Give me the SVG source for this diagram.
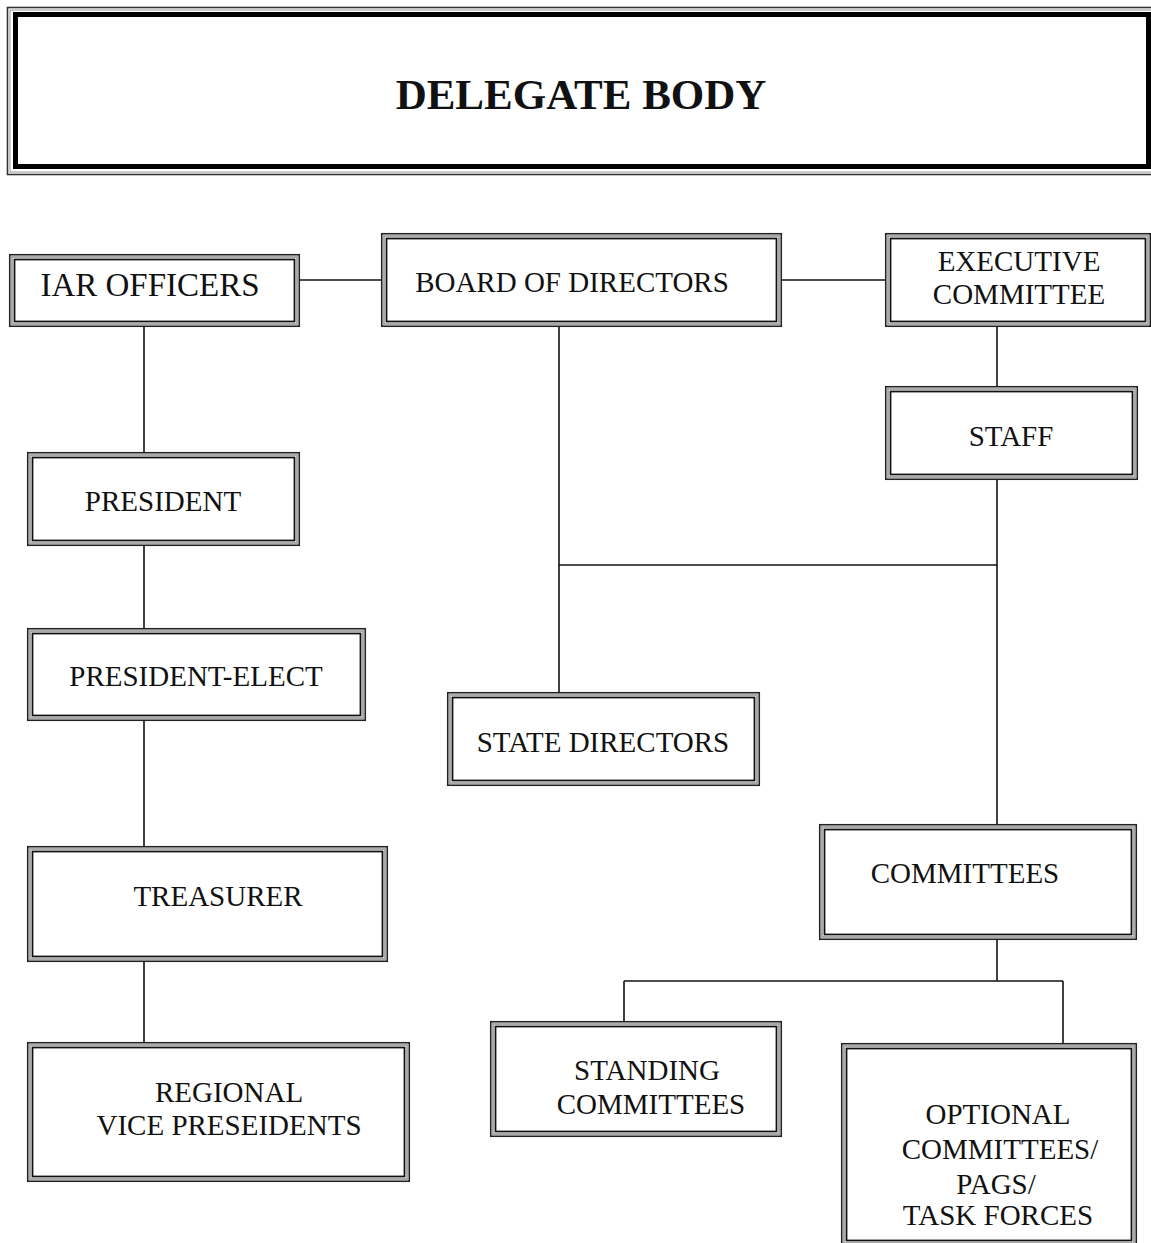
<svg xmlns="http://www.w3.org/2000/svg" width="1151" height="1243" viewBox="0 0 1151 1243">
<style>
.o{fill:none;stroke:#222;stroke-width:1.6}
.m{fill:none;stroke:#aaa;stroke-width:2}
.i{fill:none;stroke:#111;stroke-width:1.8}
.t{font-family:"Liberation Serif","Times New Roman",serif;font-size:29px;fill:#111;text-anchor:middle}
.c{fill:none;stroke:#111;stroke-width:1.6}
</style>
<rect width="1151" height="1243" fill="#fff"/>
<g id="delegate-body">
<rect x="7.5" y="7.5" width="1150" height="167" fill="none" stroke="#333" stroke-width="1.6"/>
<rect x="10" y="10" width="1145" height="162" fill="none" stroke="#bbb" stroke-width="1.5"/>
<rect x="15.5" y="14.5" width="1133" height="152" fill="none" stroke="#000" stroke-width="5"/>
<text x="581" y="109" class="t" style="font-size:43px;font-weight:bold">DELEGATE BODY</text>
</g>
<g id="connectors">
<path class="c" d="M300,280 H381"/>
<path class="c" d="M782,280 H885"/>
<path class="c" d="M144,327 V452"/>
<path class="c" d="M144,546 V628"/>
<path class="c" d="M144,721 V846"/>
<path class="c" d="M144,962 V1042"/>
<path class="c" d="M559,327 V692"/>
<path class="c" d="M559,565 H997"/>
<path class="c" d="M997,327 V386"/>
<path class="c" d="M997,480 V824"/>
<path class="c" d="M997,940 V981"/>
<path class="c" d="M624,981 H1063"/>
<path class="c" d="M624,981 V1021"/>
<path class="c" d="M1063,981 V1043"/>
</g>
<g id="iar-officers">
<rect class="o" x="9.75" y="254.75" width="289.5" height="71.5"/>
<rect class="m" x="12" y="257" width="285" height="67"/>
<rect class="i" x="14.5" y="259.5" width="280" height="62"/>
<text class="t" x="150" y="296" style="font-size:33px">IAR OFFICERS</text>
</g>
<g id="board-of-directors">
<rect class="o" x="381.75" y="233.75" width="399.5" height="92.5"/>
<rect class="m" x="384" y="236" width="395" height="88"/>
<rect class="i" x="386.5" y="238.5" width="390" height="83"/>
<text class="t" x="572" y="292">BOARD OF DIRECTORS</text>
</g>
<g id="executive-committee">
<rect class="o" x="885.75" y="233.75" width="264.5" height="92.5"/>
<rect class="m" x="888" y="236" width="260" height="88"/>
<rect class="i" x="890.5" y="238.5" width="255" height="83"/>
<text class="t" x="1019" y="271">EXECUTIVE</text>
<text class="t" x="1019" y="304">COMMITTEE</text>
</g>
<g id="staff">
<rect class="o" x="885.75" y="386.75" width="251.5" height="92.5"/>
<rect class="m" x="888" y="389" width="247" height="88"/>
<rect class="i" x="890.5" y="391.5" width="242" height="83"/>
<text class="t" x="1011" y="446">STAFF</text>
</g>
<g id="president">
<rect class="o" x="27.75" y="452.75" width="271.5" height="92.5"/>
<rect class="m" x="30" y="455" width="267" height="88"/>
<rect class="i" x="32.5" y="457.5" width="262" height="83"/>
<text class="t" x="163" y="511">PRESIDENT</text>
</g>
<g id="president-elect">
<rect class="o" x="27.75" y="628.75" width="337.5" height="91.5"/>
<rect class="m" x="30" y="631" width="333" height="87"/>
<rect class="i" x="32.5" y="633.5" width="328" height="82"/>
<text class="t" x="196" y="686">PRESIDENT-ELECT</text>
</g>
<g id="treasurer">
<rect class="o" x="27.75" y="846.75" width="359.5" height="114.5"/>
<rect class="m" x="30" y="849" width="355" height="110"/>
<rect class="i" x="32.5" y="851.5" width="350" height="105"/>
<text class="t" x="218" y="906">TREASURER</text>
</g>
<g id="regional-vice-presidents">
<rect class="o" x="27.75" y="1042.75" width="381.5" height="138.5"/>
<rect class="m" x="30" y="1045" width="377" height="134"/>
<rect class="i" x="32.5" y="1047.5" width="372" height="129"/>
<text class="t" x="229" y="1102">REGIONAL</text>
<text class="t" x="229" y="1135">VICE PRESEIDENTS</text>
</g>
<g id="state-directors">
<rect class="o" x="447.75" y="692.75" width="311.5" height="92.5"/>
<rect class="m" x="450" y="695" width="307" height="88"/>
<rect class="i" x="452.5" y="697.5" width="302" height="83"/>
<text class="t" x="603" y="752">STATE DIRECTORS</text>
</g>
<g id="committees">
<rect class="o" x="819.75" y="824.75" width="316.5" height="114.5"/>
<rect class="m" x="822" y="827" width="312" height="110"/>
<rect class="i" x="824.5" y="829.5" width="307" height="105"/>
<text class="t" x="965" y="883">COMMITTEES</text>
</g>
<g id="standing-committees">
<rect class="o" x="490.75" y="1021.75" width="290.5" height="114.5"/>
<rect class="m" x="493" y="1024" width="286" height="110"/>
<rect class="i" x="495.5" y="1026.5" width="281" height="105"/>
<text class="t" x="647" y="1080">STANDING</text>
<text class="t" x="651" y="1114">COMMITTEES</text>
</g>
<g id="optional-committees">
<rect class="o" x="841.75" y="1043.75" width="294.5" height="201.5"/>
<rect class="m" x="844" y="1046" width="290" height="197"/>
<rect class="i" x="846.5" y="1048.5" width="285" height="192"/>
<text class="t" x="998" y="1124">OPTIONAL</text>
<text class="t" x="1000" y="1159">COMMITTEES/</text>
<text class="t" x="996" y="1194">PAGS/</text>
<text class="t" x="998" y="1225">TASK FORCES</text>
</g>
</svg>
